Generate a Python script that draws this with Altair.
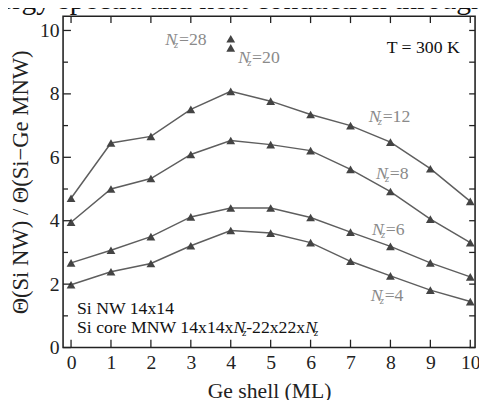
import altair as alt
import pandas as pd

# ---- data ----
shell = list(range(11))
nz_names = ["4", "6", "8", "12"]
nz4 = [1.98, 2.39, 2.65, 3.21, 3.69, 3.61, 3.31, 2.72, 2.26, 1.81, 1.45]
nz6 = [2.67, 3.07, 3.50, 4.12, 4.40, 4.40, 4.10, 3.64, 3.19, 2.67, 2.23]
nz8 = [3.95, 5.00, 5.33, 6.09, 6.53, 6.40, 6.21, 5.62, 4.92, 4.05, 3.31]
nz12 = [4.71, 6.45, 6.66, 7.51, 8.08, 7.77, 7.35, 7.00, 6.48, 5.64, 4.61]

iso_names = ["20", "28"]
iso_shell = [4, 4]
iso_ratio = [9.45, 9.74]

y_major = [0, 2, 4, 6, 8, 10]
y_minor = [1, 3, 5, 7, 9]
x_ticks = list(range(11))

# curve labels (text, shell, ratio)
lab_text = ["=28", "=20", "=12", "=8", "=6", "=4"]
lab_shell = [2.36, 4.19, 7.46, 7.64, 7.54, 7.51]
lab_ratio = [9.70, 9.12, 7.26, 5.48, 3.71, 1.63]

W, H = 419, 337
FONT = "Liberation Serif"

rows = []
for name, vals in zip(nz_names, [nz4, nz6, nz8, nz12]):
    for s, v in zip(shell, vals):
        rows.append({"shell": s, "ratio": v, "nz": name})
df = pd.DataFrame(rows)
iso_df = pd.DataFrame({"shell": iso_shell, "ratio": iso_ratio, "nz": iso_names})
lab_df = pd.DataFrame({"shell": lab_shell, "ratio": lab_ratio, "t": lab_text})

X = alt.X("shell:Q", scale=alt.Scale(domain=[-0.2, 10.12], nice=False, zero=False),
          axis=alt.Axis(values=x_ticks, title="Ge shell (ML)", labelPadding=5, titlePadding=9,
                        labelFlush=False, titleFontSize=22))
Y = alt.Y("ratio:Q", scale=alt.Scale(domain=[0, 10.45], nice=False, zero=False),
          axis=alt.Axis(values=y_major, title="Θ(Si NW) / Θ(Si−Ge MNW)", labelPadding=4,
                        titlePadding=7, labelFlush=False, titleFontSize=23))

lines = alt.Chart(df).mark_line(color="#5e5e5e", strokeWidth=1.5).encode(
    x=X, y=Y, detail="nz:N")
pts = alt.Chart(df).mark_point(shape="triangle-up", filled=True, color="#444444",
                               size=80, opacity=1).encode(x=X, y=Y)
iso = alt.Chart(iso_df).mark_point(shape="triangle-up", filled=True, color="#444444",
                                   size=80, opacity=1).encode(x=X, y=Y)

# inward ticks
ymaj_df = pd.DataFrame({"ratio": y_major})
ymin_df = pd.DataFrame({"ratio": y_minor})
xt_df = pd.DataFrame({"shell": x_ticks})
tick_color = "#222"
yl_maj = alt.Chart(ymaj_df).mark_rule(color=tick_color, strokeWidth=1.3).encode(
    y=Y, x=alt.value(0), x2=alt.value(8))
yl_min = alt.Chart(ymin_df).mark_rule(color=tick_color, strokeWidth=1.3).encode(
    y=Y, x=alt.value(0), x2=alt.value(5))
yr_maj = alt.Chart(ymaj_df).mark_rule(color=tick_color, strokeWidth=1.3).encode(
    y=Y, x=alt.value(W - 6), x2=alt.value(W))
yr_min = alt.Chart(ymin_df).mark_rule(color=tick_color, strokeWidth=1.3).encode(
    y=Y, x=alt.value(W - 6), x2=alt.value(W))
xb = alt.Chart(xt_df).mark_rule(color=tick_color, strokeWidth=1.3).encode(
    x=X, y=alt.value(H - 8), y2=alt.value(H))
xt = alt.Chart(xt_df).mark_rule(color=tick_color, strokeWidth=1.3).encode(
    x=X, y=alt.value(0), y2=alt.value(7))

gray = "#8a8a8a"
labN = alt.Chart(lab_df).mark_text(font=FONT, fontSize=18, fontStyle="italic", color=gray,
                                   align="left", baseline="middle").encode(
    x=X, y=Y, text=alt.value("N"))
labZ = alt.Chart(lab_df).mark_text(font=FONT, fontSize=11, fontStyle="italic", color=gray,
                                   align="left", baseline="middle", dx=9, dy=5).encode(
    x=X, y=Y, text=alt.value("z"))
labV = alt.Chart(lab_df).mark_text(font=FONT, fontSize=18, color=gray,
                                   align="left", baseline="middle", dx=14).encode(
    x=X, y=Y, text="t:N")

# fixed text annotations in data units
ann_df = pd.DataFrame({"shell": [8.82], "ratio": [9.45]})
temp = alt.Chart(ann_df).mark_text(font=FONT, fontSize=18, color="#111", align="center",
                                   baseline="middle").encode(
    x=X, y=Y, text=alt.value("T = 300 K"))

si1_df = pd.DataFrame({"shell": [0.15], "ratio": [1.22]})
si1 = alt.Chart(si1_df).mark_text(font=FONT, fontSize=18, color="#111", align="left",
                                  baseline="middle").encode(
    x=X, y=Y, text=alt.value("Si NW 14x14"))

si2_df = pd.DataFrame({"shell": [0.15], "ratio": [0.60]})
si2_parts = [
    ("Si core MNW 14x14x", 0, 0, 18, "normal"),
    ("N", 159, 0, 18, "italic"),
    ("z", 168, 5, 11, "italic"),
    ("-22x22x", 172, 0, 18, "normal"),
    ("N", 232, 0, 18, "italic"),
    ("z", 241, 5, 11, "italic"),
]
si2_layers = []
for txt, dx, dy, fs, st in si2_parts:
    si2_layers.append(
        alt.Chart(si2_df).mark_text(font=FONT, fontSize=fs, fontStyle=st, color="#111",
                                    align="left", baseline="middle", dx=dx, dy=dy).encode(
            x=X, y=Y, text=alt.value(txt)))

# cropped caption fragment at the very top of the image
top_df = pd.DataFrame({"shell": [-0.2], "ratio": [10.45]})
topline = alt.Chart(top_df).mark_text(font=FONT, fontSize=30, color="#111", align="left",
                                      baseline="alphabetic", dx=-65, dy=-7).encode(
    x=X, y=Y, text=alt.value("ergy spectra and heat conduction through"))

chart = alt.layer(
    lines, pts, iso, yl_maj, yl_min, yr_maj, yr_min, xb, xt,
    labN, labZ, labV, temp, si1, *si2_layers, topline
).properties(
    width=W, height=H,
    padding={"left": 56, "top": 5, "right": 4, "bottom": 50},
    autosize=alt.AutoSizeParams(type="none"),
).configure_view(
    stroke="#222", strokeWidth=1.6
).configure_axis(
    labelFont=FONT, titleFont=FONT, labelColor="#222", titleColor="#222",
    labelFontSize=20, titleFontWeight="normal",
    tickSize=0, domain=False, grid=False
)

chart.save("out.html", embed_options={"renderer": "svg", "actions": False})
